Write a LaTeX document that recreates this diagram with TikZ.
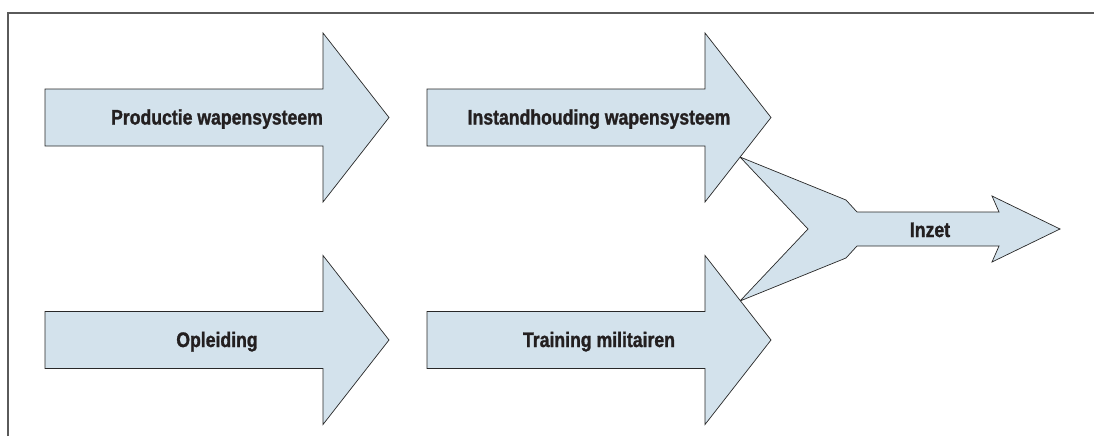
\documentclass[tikz,border=0pt]{standalone}
\usepackage{fontspec}
\newfontfamily\pijlfont[FakeStretch=0.84,BoldFeatures={FakeBold=1.3}]{Liberation Sans}
\usepackage{tikz}
\definecolor{pijlblauw}{RGB}{211,226,236}
\definecolor{omtrek}{RGB}{40,40,40}
\definecolor{tekstkleur}{RGB}{35,31,32}
\definecolor{kaderkleur}{RGB}{90,90,90}

\tikzset{
  blok/.style={fill=pijlblauw,draw=omtrek,line width=0.7pt,line join=miter},
  pijltekst/.style={font=\pijlfont\bfseries\fontsize{21}{24}\selectfont,text=tekstkleur,text height=15pt,text depth=4pt,inner sep=0pt},
  kader/.style={draw=kaderkleur,line width=1.8pt}
}

\begin{document}
\begin{tikzpicture}[x=1pt,y=-1pt]
\useasboundingbox (0,0) rectangle (1094,436);
\draw[kader] (8,436) -- (8,13) -- (1094,13);

% samenkomst naar inzet
\draw[blok] (740,157) -- (846,200) -- (857,212) -- (999,212) -- (992,196) -- (1060,229) -- (992,262) -- (999,246) -- (857,246) -- (846,258) -- (740,301) -- (808,229) -- cycle;
\node[pijltekst](Inzet) at (930,231.5){Inzet};

\foreach \x/\y/\i [count=\n] in {45/117.5/Productie wapensysteem,427/117.5/Instandhouding wapensysteem,45/340/Opleiding,427/340/Training militairen}
{
  \draw[blok] (\x,\y-28.5) -- ++(278,0) -- ++(0,-56) -- ++(66,84.5) -- ++(-66,84.5) -- ++(0,-56) -- ++(-278,0) -- cycle;
  \node[pijltekst](P\n) at (\x+172,\y+1.5){\i};
}
\end{tikzpicture}
\end{document}
